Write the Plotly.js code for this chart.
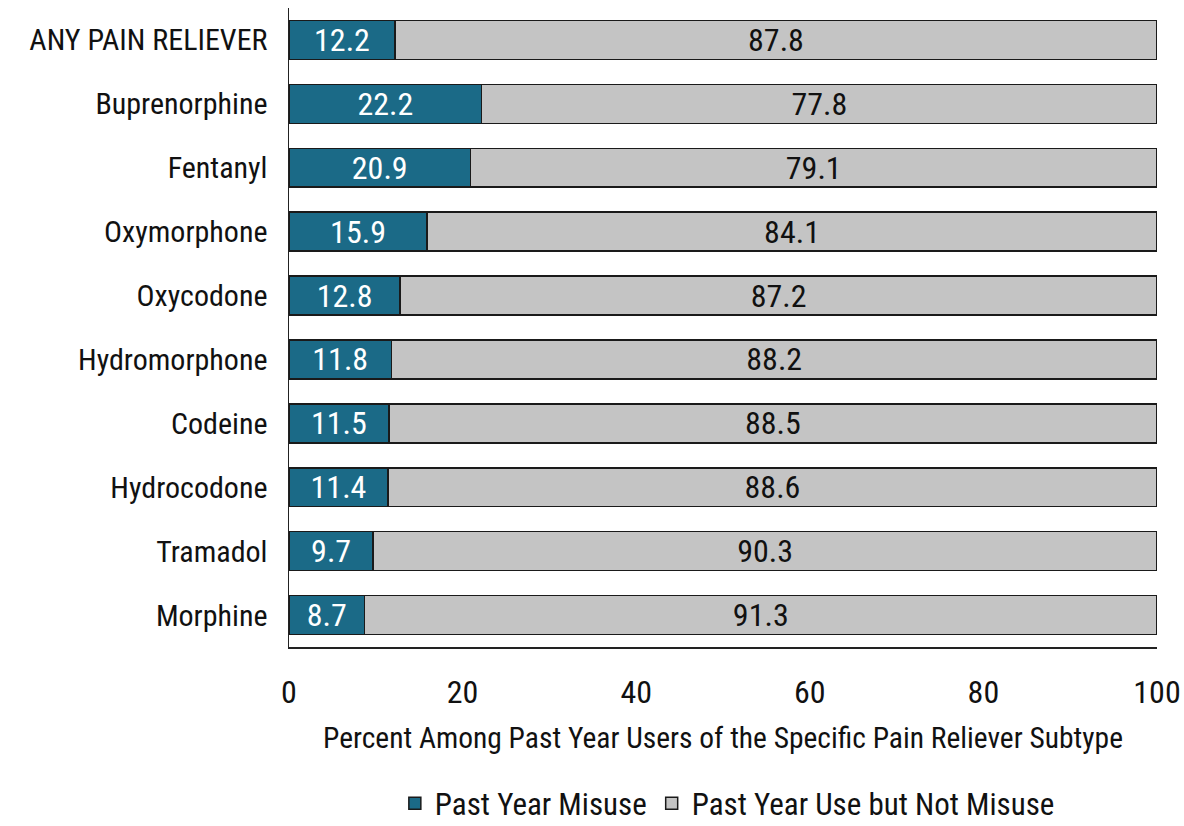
<!DOCTYPE html>
<html><head><meta charset="utf-8">
<script src="https://cdn.plot.ly/plotly-3.0.1.min.js"></script>
<style>body{margin:0;background:#fff}#chart{width:1184px;height:826px}</style>
</head><body><div id="chart"></div>
<script>
const categories = ["ANY PAIN RELIEVER","Buprenorphine","Fentanyl","Oxymorphone","Oxycodone","Hydromorphone","Codeine","Hydrocodone","Tramadol","Morphine"];
const misuse = [12.2,22.2,20.9,15.9,12.8,11.8,11.5,11.4,9.7,8.7];
const useNotMisuse = [87.8,77.8,79.1,84.1,87.2,88.2,88.5,88.6,90.3,91.3];
const seriesNames = ["Past Year Misuse","Past Year Use but Not Misuse"];
const xTicks = [0,20,40,60,80,100];

const FONT = '"Arial Narrow", "Roboto Condensed", sans-serif';
const traces = [
  {type:'bar', orientation:'h', name:seriesNames[0], y:categories, x:misuse,
   text:misuse.map(v=>v.toFixed(1)), textposition:'inside', insidetextanchor:'middle',
   textfont:{family:FONT,size:32,color:'#ffffff'},
   marker:{color:'#1b6a87', line:{color:'#1a1a1a', width:1.5}}, width:0.61, hoverinfo:'x+y'},
  {type:'bar', orientation:'h', name:seriesNames[1], y:categories, x:useNotMisuse,
   text:useNotMisuse.map(v=>v.toFixed(1)), textposition:'inside', insidetextanchor:'middle',
   textfont:{family:FONT,size:32,color:'#111111'},
   marker:{color:'#c4c4c4', line:{color:'#1a1a1a', width:1.5}}, width:0.61, hoverinfo:'x+y'}
];
const layout = {
  width:1184, height:826, barmode:'stack',
  margin:{l:289, r:27, t:8, b:179, autoexpand:false},
  paper_bgcolor:'#fff', plot_bgcolor:'#fff',
  font:{family:FONT, size:30, color:'#111'},
  xaxis:{range:[0,100], tickvals:xTicks, ticktext:xTicks.map(String), showgrid:false, zeroline:false,
    showline:true, linecolor:'#222', linewidth:1.5, ticks:'', tickfont:{size:32}, ticklabelstandoff:16,
    title:{text:'Percent Among Past Year Users of the Specific Pain Reliever Subtype', font:{size:29.5}, standoff:17}},
  yaxis:{autorange:false, range:[9.5,-0.5], type:'category', showgrid:false, showline:true, linecolor:'#222', linewidth:1.5,
    ticks:'', tickfont:{size:30}, ticklabelstandoff:14},
  showlegend:true,
  legend:{orientation:'h', x:0.505, xanchor:'center', y:-0.203, yanchor:'top', font:{size:31}, traceorder:'normal', itemwidth:30},
  uniformtext:{mode:'show', minsize:32}
};
Plotly.newPlot('chart', traces, layout, {displayModeBar:false, staticPlot:true});
</script></body></html>
